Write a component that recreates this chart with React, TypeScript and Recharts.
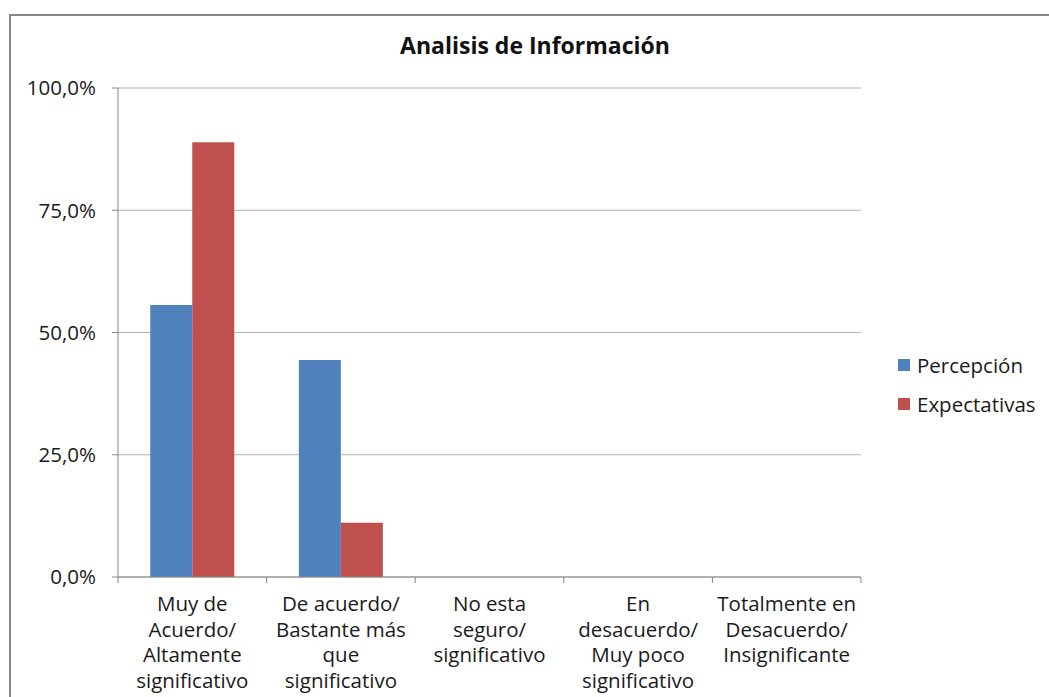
import React from 'react';
import { BarChart, Bar, XAxis, YAxis, CartesianGrid } from 'recharts';

const categories = [
  'Muy de\nAcuerdo/\nAltamente\nsignificativo',
  'De acuerdo/\nBastante más\nque\nsignificativo',
  'No esta\nseguro/\nsignificativo',
  'En\ndesacuerdo/\nMuy poco\nsignificativo',
  'Totalmente en\nDesacuerdo/\nInsignificante',
];
const percepcion = [55.6, 44.4, 0, 0, 0];
const expectativas = [88.9, 11.1, 0, 0, 0];
const yTicks = [0, 25, 50, 75, 100];
const seriesNames = ['Percepción', 'Expectativas'];
const colors = ['#4F81BD', '#C0504D'];

const data = categories.map((c, i) => ({ name: c, p: percepcion[i], e: expectativas[i] }));

const FONT = '"Open Sans", sans-serif';

const XTick = (props: any) => {
  const { x, y, payload, index, width, visibleTicksCount } = props;
  const band = width / visibleTicksCount;
  const lines = String(payload.value).split('\n');
  return (
    <g>
      <line x1={x - band / 2} x2={x - band / 2} y1={y - 8} y2={y - 2} stroke="#868686" />
      {index === visibleTicksCount - 1 && (
        <line x1={x + band / 2} x2={x + band / 2} y1={y - 8} y2={y - 2} stroke="#868686" />
      )}
      <text textAnchor="middle" fontFamily={FONT} fontSize={20.5} fill="#1a1a1a">
        {lines.map((l, i) => (
          <tspan key={i} x={x} y={y + 26 + i * 25.5}>{l}</tspan>
        ))}
      </text>
    </g>
  );
};

export default function App() {
  return (
    <div style={{ position: 'absolute', left: 0, top: 0, width: 1049, height: 697, background: '#fff', overflow: 'hidden' }}>
      <div style={{ position: 'absolute', left: 9, top: 14, width: 1100, height: 800, borderLeft: '2px solid #868686', borderTop: '2px solid #868686' }} />
      <div style={{ position: 'absolute', left: 0, top: 29, width: 1070, textAlign: 'center', fontFamily: FONT, fontWeight: 700, fontSize: 23, color: '#111' }}>
        Analisis de Información
      </div>
      <div style={{ position: 'absolute', left: 0, top: 0 }}>
        <BarChart width={1049} height={697} data={data} margin={{ top: 88, right: 188, bottom: 0, left: 0 }} barCategoryGap="21.7%" barGap={0}>
          <CartesianGrid horizontal vertical={false} stroke="#b4b4b4" />
          <XAxis dataKey="name" height={120} tick={<XTick />} tickLine={false} axisLine={{ stroke: '#868686' }} interval={0} />
          <YAxis width={118} domain={[0, 100]} ticks={yTicks} tickFormatter={(v: number) => v.toFixed(1).replace('.', ',') + '%'}
            tick={{ fontFamily: FONT, fontSize: 20.5, fill: '#1a1a1a' }} tickLine={{ stroke: '#868686' }} tickSize={6} tickMargin={16} axisLine={{ stroke: '#868686' }} />
          <Bar dataKey="p" name={seriesNames[0]} fill={colors[0]} isAnimationActive={false} />
          <Bar dataKey="e" name={seriesNames[1]} fill={colors[1]} isAnimationActive={false} />
        </BarChart>
      </div>
      <div style={{ position: 'absolute', left: 898, top: 345, fontFamily: FONT, fontSize: 20.5, color: '#1a1a1a' }}>
        {seriesNames.map((n, i) => (
          <div key={n} style={{ display: 'flex', alignItems: 'center', height: 39 }}>
            <span style={{ display: 'inline-block', width: 12, height: 12, background: colors[i], marginRight: 7 }} />
            <span>{n}</span>
          </div>
        ))}
      </div>
    </div>
  );
}
